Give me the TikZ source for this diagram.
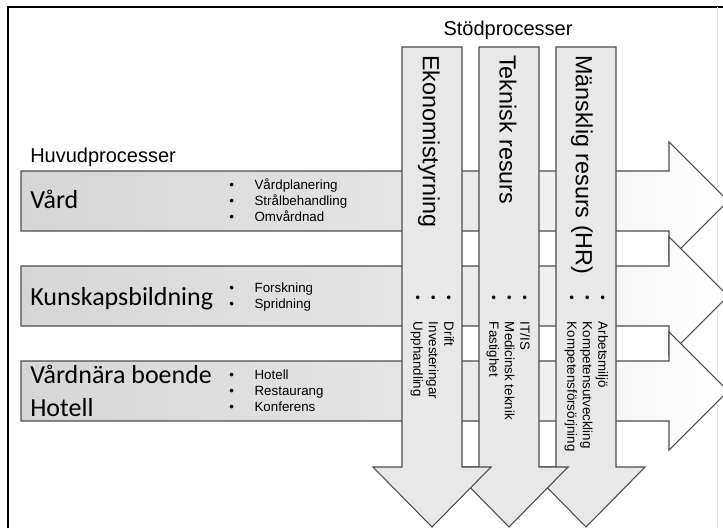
\documentclass[tikz,border=0pt]{standalone}
\usepackage{fontspec}
\setmainfont{Liberation Sans}
\newfontfamily\calibrifont{Carlito}
\begin{document}
\begin{tikzpicture}[x=0.75pt,y=-0.75pt,
  harrow/.style={draw=black!70,line width=0.8pt,left color=gray!32,right color=white,middle color=gray!22},
  varrow/.style={draw=black!70,line width=0.8pt,fill=gray!18},
  maintitle/.style={font=\calibrifont\fontsize{19.5}{23}\selectfont,inner sep=0pt,anchor=base west},
  suptitle/.style={font=\fontsize{17.5}{20}\selectfont,inner sep=0pt,rotate=-90,anchor=west},
  heading/.style={font=\fontsize{15}{18}\selectfont,inner sep=0pt},
  hlist/.style={font=\fontsize{10}{12}\selectfont,inner sep=0pt,anchor=west},
  vlist/.style={font=\fontsize{10}{11.6}\selectfont,inner sep=0pt,rotate=-90,anchor=west}]
  \useasboundingbox (0,0) rectangle (723,528);
  \clip (0,0) rectangle (723,528);
  \draw[line width=1.5pt] (8,528) -- (8,7) -- (723,7);
  \draw[gray!20] (717,7) -- (717,528);
  \draw[harrow] (21,171) -- (669,171) -- (669,142) -- (728,201) -- (669,260) -- (669,231) -- (21,231) -- cycle;
  \draw[harrow] (21,266) -- (669,266) -- (669,237) -- (728,296) -- (669,355) -- (669,326) -- (21,326) -- cycle;
  \draw[harrow] (21,361) -- (669,361) -- (669,332) -- (728,391) -- (669,450) -- (669,421) -- (21,421) -- cycle;
  \draw[varrow] (556,47) -- (616,47) -- (616,467) -- (645,467) -- (586,527) -- (527,467) -- (556,467) -- cycle;
  \draw[varrow] (479,47) -- (539,47) -- (539,467) -- (568,467) -- (509,527) -- (450,467) -- (479,467) -- cycle;
  \draw[varrow] (402,47) -- (462,47) -- (462,467) -- (491,467) -- (432,527) -- (373,467) -- (402,467) -- cycle;
  \node[heading,anchor=base west] (huvud) at (30,162) {Huvudprocesser};
  \node[heading,anchor=base] (stod) at (508,36) {Stödprocesser};
  \node[maintitle] (vard) at (30,208) {Vård};
  \node[maintitle] (kunskap) at (30,305) {Kunskapsbildning};
  \node[maintitle] (boende) at (30,383) {Vårdnära boende};
  \node[maintitle] (hotell) at (30,416) {Hotell};
  \node[hlist] (vardlist) at (229,202) {\begin{tabular}{@{}c@{\hspace{15.5pt}}l@{}}
    \textbullet & Vårdplanering\\ \textbullet & Strålbehandling\\ \textbullet & Omvårdnad\end{tabular}};
  \node[hlist] (kunskaplist) at (229,297) {\begin{tabular}{@{}c@{\hspace{15.5pt}}l@{}}
    \textbullet & Forskning\\ \textbullet & Spridning\end{tabular}};
  \node[hlist] (boendelist) at (229,392) {\begin{tabular}{@{}c@{\hspace{15.5pt}}l@{}}
    \textbullet & Hotell\\ \textbullet & Restaurang\\ \textbullet & Konferens\end{tabular}};
  \node[suptitle] (ekonomi) at (429,55) {Ekonomistyrning};
  \node[suptitle] (teknisk) at (508,55) {Teknisk resurs};
  \node[suptitle] (hr) at (582,55) {Mänsklig resurs (HR)};
  \node[vlist] (ekonomilist) at (432,295) {\begin{tabular}{@{}c@{\hspace{16.5pt}}l@{}}
    \textbullet & Drift\\ \textbullet & Investeringar\\ \textbullet & Upphandling\end{tabular}};
  \node[vlist] (teknisklist) at (508,295) {\begin{tabular}{@{}c@{\hspace{16.5pt}}l@{}}
    \textbullet & IT/IS\\ \textbullet & Medicinsk teknik\\ \textbullet & Fastighet\end{tabular}};
  \node[vlist] (hrlist) at (586,295) {\begin{tabular}{@{}c@{\hspace{16.5pt}}l@{}}
    \textbullet & Arbetsmiljö\\ \textbullet & Kompetensutveckling\\ \textbullet & Kompetensförsörjning\end{tabular}};
\end{tikzpicture}
\end{document}
